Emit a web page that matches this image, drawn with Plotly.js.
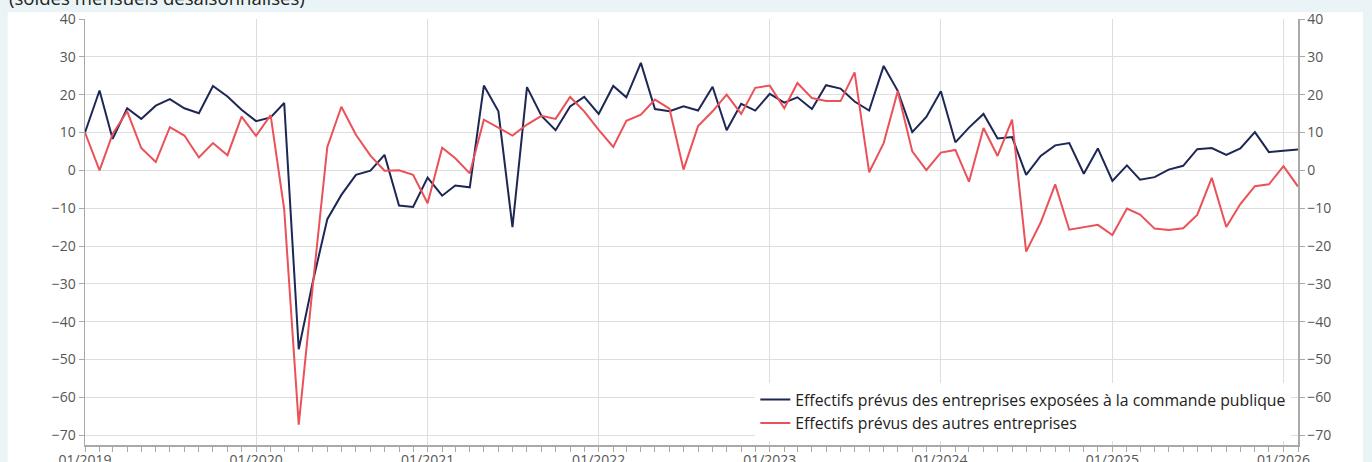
<!DOCTYPE html>
<html>
<head>
<meta charset="utf-8">
<script src="https://cdn.plot.ly/plotly-3.0.1.min.js"></script>
<style>
html,body{margin:0;padding:0;background:#eaf4f6;}
#chart{width:1372px;height:462px;}
</style>
</head>
<body>
<div id="chart"></div>
<script>
// Monthly dates from 01/2019 to 02/2026
const startYear = 2019;
const nMonths = 86;
const months = [];
for (let i = 0; i < nMonths; i++) {
  const y = startYear + Math.floor(i / 12);
  const m = (i % 12) + 1;
  months.push(y + '-' + (m < 10 ? '0' + m : m) + '-01');
}

const seriesNames = [
  'Effectifs prévus des entreprises exposées à la commande publique',
  'Effectifs prévus des autres entreprises'
];

const publicValues = [
  10, 21.1, 8.3, 16.4, 13.6, 17.1, 18.8, 16.4, 15.1, 22.3, 19.5, 16.0,
  13.0, 14.0, 17.8, -47.3, -29.5, -12.9, -6.5, -1.2, -0.1, 4.1, -9.3, -9.7,
  -1.9, -6.7, -4.0, -4.5, 22.4, 15.6, -15.0, 22.0, 14.4, 10.6, 16.9, 19.4,
  14.9, 22.3, 19.3, 28.4, 16.2, 15.6, 16.9, 15.8, 22.1, 10.6, 17.6, 15.8,
  20.2, 17.9, 19.3, 16.2, 22.5, 21.6, 18.2, 15.8, 27.6, 21.0, 10.1, 14.1,
  20.9, 7.4, 11.3, 14.9, 8.4, 8.8, -1.2, 3.8, 6.6, 7.2, -0.9, 5.8,
  -2.8, 1.3, -2.5, -1.8, 0.2, 1.2, 5.6, 5.9, 4.1, 5.8, 10.1, 4.8,
  5.2, 5.5
];

const otherValues = [
  10, 0, 9.6, 15.6, 5.9, 2.2, 11.4, 9.2, 3.4, 7.2, 4.0, 14.2,
  9.1, 14.6, -10.3, -67.2, -30.5, 6.2, 16.8, 9.4, 3.9, -0.1, 0, -1.2,
  -8.7, 6.0, 3.2, -0.8, 13.4, 11.3, 9.2, 12.1, 14.4, 13.6, 19.4, 15.6,
  10.7, 6.2, 13.1, 14.7, 18.7, 16.3, 0.2, 11.7, 15.6, 20.0, 14.9, 21.8,
  22.4, 16.4, 23.1, 19.1, 18.3, 18.3, 25.9, -0.5, 7.2, 20.9, 5.0, 0.05,
  4.7, 5.4, -3.0, 11.2, 3.8, 13.4, -21.5, -13.8, -3.7, -15.7, -15.0, -14.4,
  -17.1, -10.1, -11.7, -15.4, -15.8, -15.3, -11.8, -2.0, -15.0, -8.9, -4.2, -3.7,
  1.1, -4.3
];

const subtitle = '(soldes mensuels désaisonnalisés)';
const yTickVals = [-70, -60, -50, -40, -30, -20, -10, 0, 10, 20, 30, 40];

const navy = '#1d2755';
const red = '#ea5159';
const axisGrey = '#a9a9a9';
const gridGrey = '#dedede';
const tickFont = {family: 'Open Sans, Noto Sans, sans-serif', size: 14, color: '#555'};

const traces = [
  {x: months, y: publicValues, name: seriesNames[0], type: 'scatter', mode: 'lines',
   line: {color: navy, width: 2}},
  {x: months, y: otherValues, name: seriesNames[1], type: 'scatter', mode: 'lines',
   line: {color: red, width: 2}},
  {x: [months[0]], y: [0], yaxis: 'y2', type: 'scatter', mode: 'markers',
   marker: {opacity: 0}, showlegend: false, hoverinfo: 'skip'}
];

const yRange = [-72.6, 40];

const layout = {
  width: 1372, height: 462,
  paper_bgcolor: '#eaf4f6',
  plot_bgcolor: 'rgba(0,0,0,0)',
  margin: {l: 85, r: 74, t: 19, b: 17, pad: 0},
  font: {family: 'Open Sans, Noto Sans, sans-serif', color: '#333'},
  showlegend: true,
  legend: {
    x: 0.9945, xanchor: 'right', y: 0.0103, yanchor: 'bottom',
    bgcolor: '#ffffff', borderwidth: 0,
    font: {family: 'Open Sans, Noto Sans, sans-serif', size: 15.8, color: '#222'},
    tracegroupgap: 0, itemwidth: 30
  },
  xaxis: {
    type: 'date',
    range: ['2019-01-01', '2026-02-01'],
    tick0: '2019-01-01', dtick: 'M12', tickformat: '%m/%Y',
    ticks: 'outside', ticklen: 5, tickcolor: axisGrey, tickwidth: 1,
    ticklabelstandoff: -3,
    showline: true, linecolor: axisGrey, linewidth: 1.5,
    showgrid: true, gridcolor: gridGrey, gridwidth: 1,
    zeroline: false,
    tickfont: tickFont,
    minor: {dtick: 'M1', tick0: '2019-01-01', ticks: 'outside', ticklen: 5, tickcolor: axisGrey, showgrid: false}
  },
  yaxis: {
    range: yRange, tickvals: yTickVals,
    ticks: 'outside', ticklen: 5, tickcolor: axisGrey,
    showline: true, linecolor: axisGrey, linewidth: 1.5,
    showgrid: true, gridcolor: gridGrey, gridwidth: 1,
    zeroline: false,
    tickfont: tickFont
  },
  yaxis2: {
    overlaying: 'y', side: 'right',
    range: yRange, tickvals: yTickVals,
    ticks: 'outside', ticklen: 5, tickcolor: axisGrey,
    showline: true, linecolor: axisGrey, linewidth: 1.5,
    showgrid: false, zeroline: false,
    tickfont: tickFont
  },
  shapes: [{
    type: 'rect', xref: 'paper', yref: 'paper', layer: 'below',
    x0: -0.0637, x1: 1.0536, y0: -0.2, y1: 1.0156,
    fillcolor: '#ffffff', line: {width: 0}
  }],
  annotations: [{
    text: subtitle, xref: 'paper', yref: 'paper',
    x: -0.0645, y: 1.016, xanchor: 'left', yanchor: 'bottom',
    showarrow: false,
    font: {family: 'Open Sans, Noto Sans, sans-serif', size: 18.6, color: '#222'}
  }]
};

Plotly.newPlot('chart', traces, layout, {displayModeBar: false, staticPlot: true});
</script>
</body>
</html>
